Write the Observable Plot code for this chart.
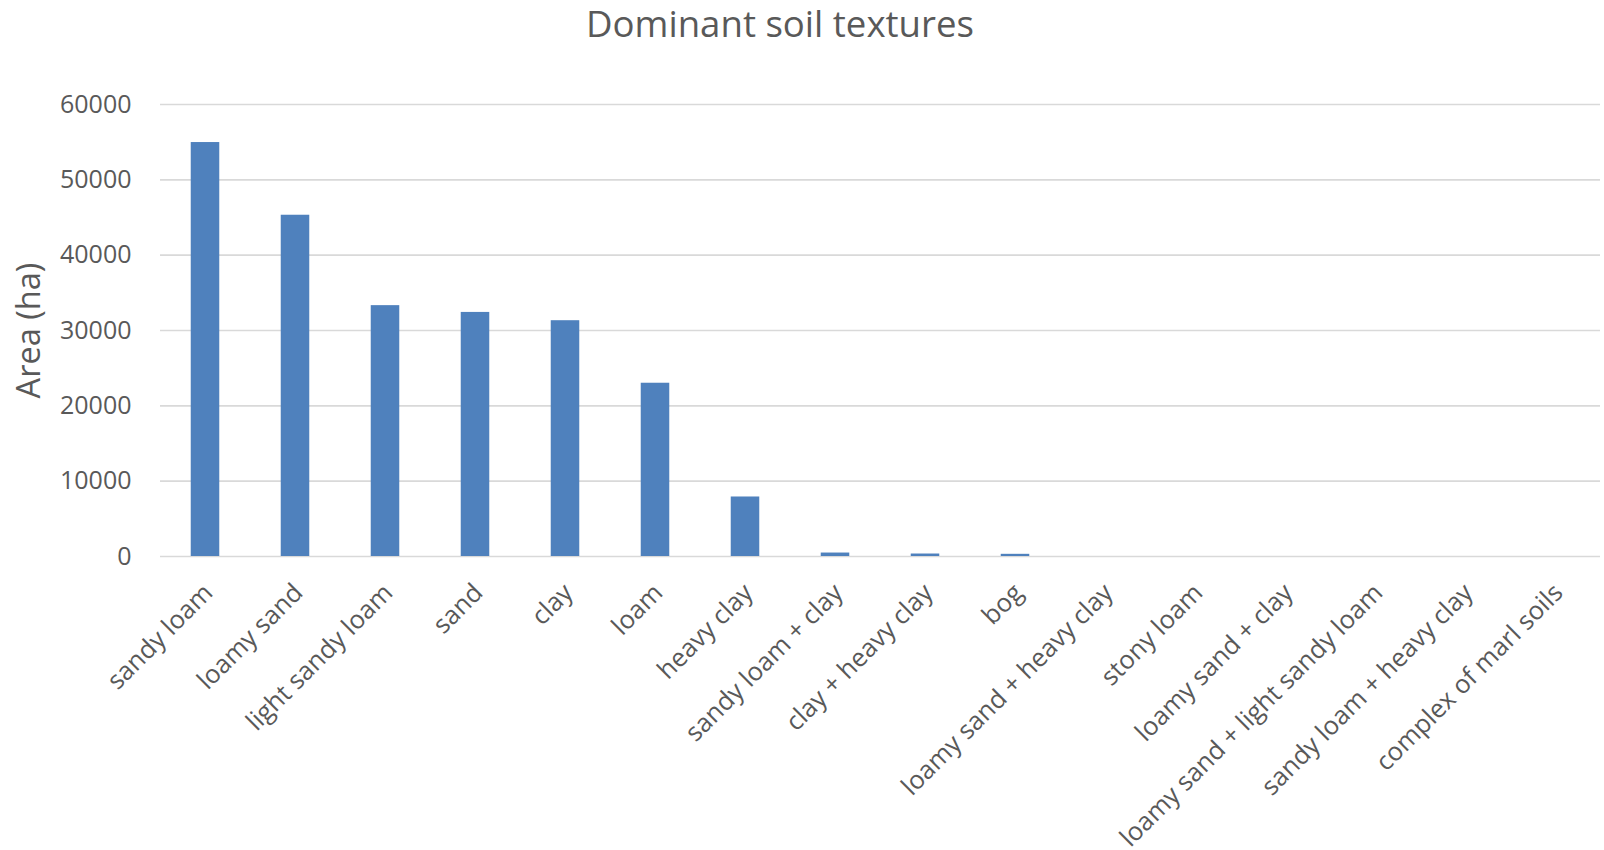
<!DOCTYPE html>
<html>
<head>
<meta charset="utf-8">
<script src="https://cdn.jsdelivr.net/npm/d3@7"></script>
<script src="https://cdn.jsdelivr.net/npm/@observablehq/plot@0.6"></script>
<style>
  html, body { margin: 0; padding: 0; background: #ffffff; }
  #chart { width: 1604px; height: 850px; }
</style>
</head>
<body>
<div id="chart"></div>
<script>
const titleText = "Dominant soil textures";
const yLabel = "Area (ha)";
const categories = [
  "sandy loam", "loamy sand", "light sandy loam", "sand", "clay", "loam",
  "heavy clay", "sandy loam + clay", "clay + heavy clay", "bog",
  "loamy sand + heavy clay", "stony loam", "loamy sand + clay",
  "loamy sand + light sandy loam", "sandy loam + heavy clay", "complex of marl soils"
];
const areas = [54950, 45300, 33300, 32400, 31300, 23000, 7900, 460, 330, 290, 0, 0, 0, 0, 0, 0];
const yTicks = [0, 10000, 20000, 30000, 40000, 50000, 60000];

const data = categories.map((c, i) => ({category: c, area: areas[i]}));

const chart = Plot.plot({
  width: 1604,
  height: 850,
  marginLeft: 160,
  marginRight: 4,
  marginTop: 104,
  marginBottom: 294,
  style: {fontFamily: "'Open Sans', sans-serif", color: "#595959", background: "#ffffff", overflow: "visible"},
  x: {domain: categories, paddingInner: 0.683, paddingOuter: 0.3415, round: false, label: null},
  y: {domain: [0, 60000], label: null},
  marks: [
    Plot.ruleY(yTicks, {stroke: "#d9d9d9", strokeWidth: 1.6}),
    Plot.barY(data.filter(d => d.area > 0), {x: "category", y: "area", fill: "#4f81bd"}),
    Plot.axisY({ticks: yTicks, tickFormat: d3.format("d"), tickSize: 0, tickPadding: 29, fontSize: 25, label: null}),
    Plot.axisX({tickRotate: -45, tickSize: 0, tickPadding: 32, dx: 3, fontSize: 25.5, label: null}),
    Plot.text([yLabel], {text: d => d, frameAnchor: "left", dx: -131, rotate: -90, fontSize: 32.5, textAnchor: "middle", lineAnchor: "middle", fill: "#595959"}),
    Plot.text([titleText], {text: d => d, frameAnchor: "top-left", dx: 619.5, dy: -68, textAnchor: "middle", lineAnchor: "bottom", fontSize: 36.6, fill: "#595959"})
  ]
});
document.getElementById("chart").appendChild(chart);
</script>
</body>
</html>
